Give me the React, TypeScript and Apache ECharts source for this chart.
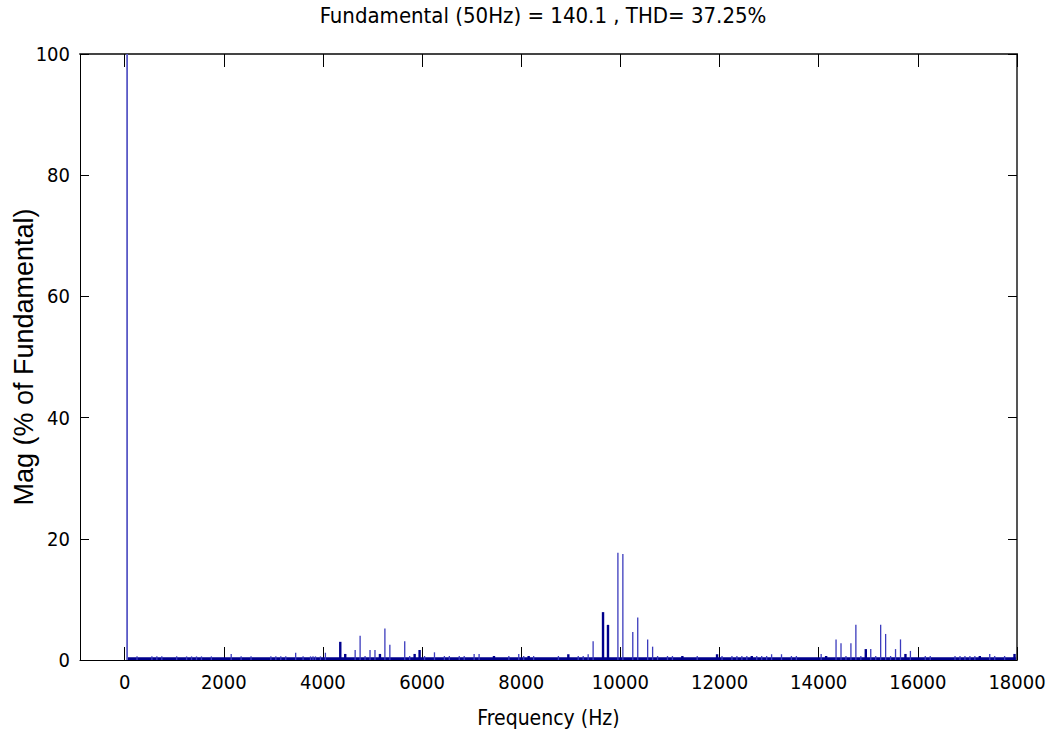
import React, { useEffect, useRef } from "react";
import * as echarts from "echarts";

const titleText = "Fundamental (50Hz) = 140.1 , THD= 37.25%";
const xAxisName = "Frequency (Hz)";
const yAxisName = "Mag (% of Fundamental)";
const xTickValues = [0, 2000, 4000, 6000, 8000, 10000, 12000, 14000, 16000, 18000];

// [frequency Hz, magnitude % of fundamental]
const fundamental: [number, number][] = [[50, 100]];

const isolatedHarmonics: [number, number][] = [
  [250, 0.6], [550, 0.6], [650, 0.6], [750, 0.6], [1050, 0.6], [1250, 0.6], [1350, 0.6],
  [1450, 0.6], [1550, 0.6], [1750, 0.6], [2150, 1.0], [2350, 0.6], [2550, 0.6], [2950, 0.6],
  [3050, 0.6], [3150, 0.6], [3250, 0.6], [3450, 1.2], [3600, 0.6], [3750, 0.6], [3800, 0.6],
  [3850, 0.6], [3950, 0.6], [4050, 1.2], [4650, 1.65], [4750, 4.0], [4850, 0.66], [4950, 1.65],
  [5050, 1.65], [5250, 5.2], [5350, 2.5], [5650, 3.1], [5750, 0.66], [6050, 0.66], [6250, 1.27],
  [6450, 0.66], [6550, 0.66], [6750, 0.66], [6850, 0.66], [7050, 1.0], [7150, 1.0], [7750, 0.66],
  [7950, 1.0], [8050, 0.66], [8250, 0.66], [8750, 0.66], [9150, 0.66], [9250, 0.66], [9350, 0.95],
  [9450, 3.1], [9950, 17.7], [10050, 17.5], [10250, 4.6], [10350, 7.0], [10550, 3.4], [10650, 2.2],
  [10750, 0.66], [10950, 0.66], [11050, 0.66], [11550, 0.66], [12050, 0.66], [12250, 0.66],
  [12350, 0.66], [12450, 0.66], [12550, 0.66], [12750, 0.66], [12850, 0.66], [12950, 0.66],
  [13050, 0.95], [13250, 0.95], [13450, 0.66], [13550, 0.66], [14050, 1.0], [14350, 3.4],
  [14450, 2.75], [14550, 0.66], [14650, 2.75], [14750, 5.8], [14850, 0.66], [15050, 1.8],
  [15150, 0.66], [15250, 5.8], [15350, 4.3], [15450, 0.66], [15550, 1.8], [15650, 3.4],
  [15850, 1.5], [16150, 0.66], [16250, 0.66], [16750, 0.66], [16850, 0.66], [16950, 0.66],
  [17050, 0.66], [17150, 0.66], [17450, 1.0], [17550, 0.66], [17750, 0.66],
];

const clusteredHarmonics: [number, number][] = [
  [4350, 3.0], [4450, 1.0], [5150, 1.0], [5850, 1.0], [5950, 1.65], [7450, 0.66], [8150, 0.66],
  [8950, 0.95], [9650, 7.9], [9750, 5.8], [11250, 0.66], [11950, 0.95], [12650, 0.66],
  [14150, 0.66], [14950, 1.8], [15750, 1.0], [17250, 0.66], [17950, 1.0],
];

const noiseFloor: [number, number][] = [[50, 0.22], [17975, 0.22]];

const NARROW = "'DejaVu Sans Condensed', 'Liberation Sans', Arial, sans-serif";
const REGULAR = "'Liberation Sans', Arial, sans-serif";

function barRenderer(width: number, color: string) {
  return (params: any, api: any) => {
    const f = api.value(0);
    const v = api.value(1);
    const p0 = api.coord([f, 0]);
    const p1 = api.coord([f, v]);
    return {
      type: "rect",
      shape: { x: p0[0] - width / 2, y: p1[1], width, height: p0[1] - p1[1] },
      style: { fill: color },
    };
  };
}

export default function App() {
  const ref = useRef<HTMLDivElement>(null);
  useEffect(() => {
    if (!ref.current) return;
    const chart = echarts.init(ref.current, undefined, { renderer: "svg" });
    const tickLabel = { fontFamily: NARROW, fontSize: 20, color: "#000" };
    chart.setOption({
      animation: false,
      backgroundColor: "#fff",
      grid: { left: 80, right: 37, top: 54, bottom: 78, containLabel: false, outerBoundsMode: "none" },
      graphic: [
        {
          type: "text",
          x: 543,
          y: 15,
          style: {
            text: titleText,
            font: `22px ${NARROW}`,
            fill: "#000",
            textAlign: "center",
            textVerticalAlign: "middle",
          },
        },
      ],
      xAxis: [
        {
          type: "value",
          position: "bottom",
          min: -900,
          max: 18000,
          splitLine: { show: false },
          axisLine: { show: true, onZero: false, lineStyle: { color: "#000", width: 1.2 } },
          axisTick: { inside: true, length: 13, customValues: xTickValues, lineStyle: { color: "#000" } },
          axisLabel: { customValues: xTickValues, margin: 12, formatter: (v: number) => String(v), ...tickLabel },
          name: xAxisName,
          nameLocation: "middle",
          nameGap: 47,
          nameMoveOverlap: false,
          nameTextStyle: { fontFamily: NARROW, fontSize: 21, color: "#000" },
        },
        {
          type: "value",
          position: "top",
          min: -900,
          max: 18000,
          splitLine: { show: false },
          axisLine: { show: true, onZero: false, lineStyle: { color: "#444", width: 2 } },
          axisTick: { inside: true, length: 13, customValues: xTickValues, lineStyle: { color: "#000" } },
          axisLabel: { show: false },
        },
      ],
      yAxis: [
        {
          type: "value",
          position: "left",
          min: 0,
          max: 100,
          interval: 20,
          splitLine: { show: false },
          axisLine: { show: true, onZero: false, lineStyle: { color: "#000", width: 1 } },
          axisTick: { show: true, inside: true, length: 9, lineStyle: { color: "#000" } },
          axisLabel: { margin: 10, formatter: (v: number) => String(v), ...tickLabel },
          name: yAxisName,
          nameLocation: "middle",
          nameGap: 43,
          nameMoveOverlap: false,
          nameTextStyle: { fontFamily: REGULAR, fontSize: 27, color: "#000" },
        },
        {
          type: "value",
          position: "right",
          min: 0,
          max: 100,
          interval: 20,
          splitLine: { show: false },
          axisLine: { show: true, onZero: false, lineStyle: { color: "#555", width: 2 } },
          axisTick: { show: true, inside: true, length: 9, lineStyle: { color: "#000" } },
          axisLabel: { show: false },
        },
      ],
      series: [
        {
          type: "line",
          data: noiseFloor,
          symbol: "none",
          lineStyle: { color: "#00008c", width: 2.6 },
          silent: true,
          z: 1,
        },
        {
          type: "custom",
          data: isolatedHarmonics,
          encode: { x: 0, y: 1 },
          renderItem: barRenderer(1.3, "#3b3bbd"),
          z: 2,
        },
        {
          type: "custom",
          data: clusteredHarmonics,
          encode: { x: 0, y: 1 },
          renderItem: barRenderer(2.4, "#00008c"),
          z: 3,
        },
        {
          type: "custom",
          data: fundamental,
          encode: { x: 0, y: 1 },
          renderItem: barRenderer(1.8, "#5a5ac6"),
          z: 2,
        },
      ],
    });
    return () => chart.dispose();
  }, []);
  return <div ref={ref} style={{ width: 1054, height: 738, position: "absolute", left: 0, top: 0 }} />;
}
